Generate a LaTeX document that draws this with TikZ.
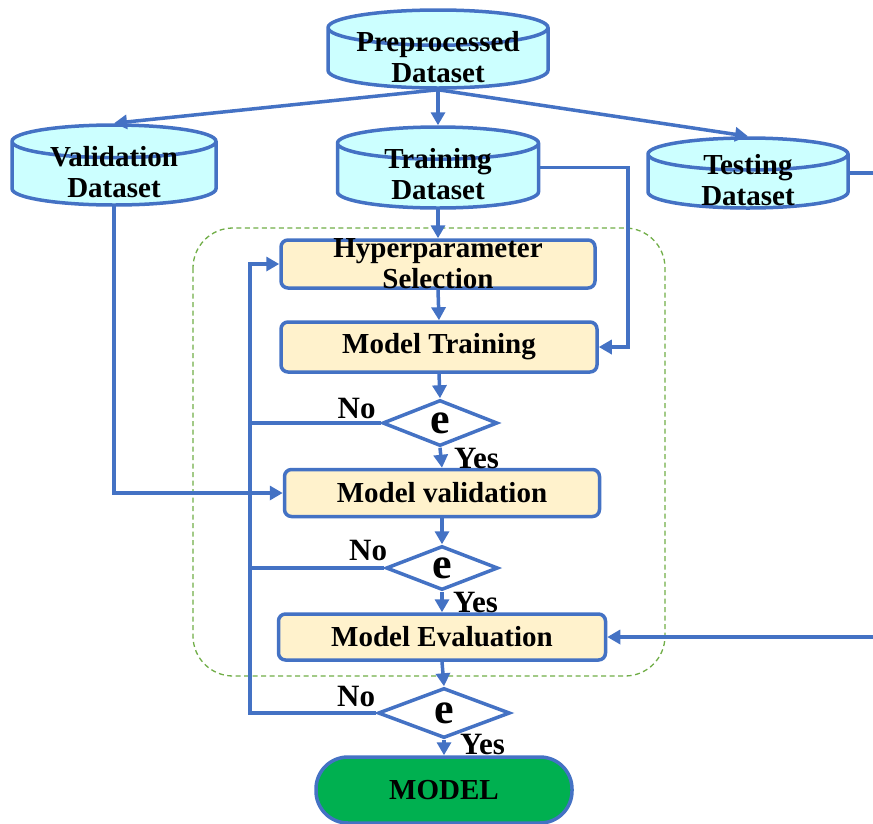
\documentclass[tikz,border=0pt]{standalone}
\usepackage{fontspec}
\setmainfont{Liberation Serif}
\usetikzlibrary{positioning, arrows.meta, shapes}
\definecolor{lineblue}{RGB}{68,114,196}
\definecolor{dbcyan}{RGB}{204,255,255}
\definecolor{stepcream}{RGB}{255,242,204}
\definecolor{framegreen}{RGB}{112,173,71}
\definecolor{modelgreen}{RGB}{0,176,80}

\tikzset{
  dbase/.style={cylinder, shape border rotate=90, aspect=0.16, draw=lineblue,
    fill=dbcyan, line width=3.5pt, inner sep=0pt, anchor=shape center},
  dbtext/.style={align=center, inner sep=0pt, yshift=2pt,
    font=\fontsize{29}{31}\selectfont\bfseries},
  stepbox/.style={rectangle, rounded corners=7pt, draw=lineblue, fill=stepcream,
    line width=3.5pt, align=center, inner sep=0pt,
    font=\fontsize{29}{31}\selectfont\bfseries},
  check/.style={diamond, draw=lineblue, fill=white, line width=3.5pt,
    inner sep=0pt, aspect=2.5, font=\fontsize{44}{44}\selectfont\bfseries},
  lbl/.style={inner sep=0pt, font=\fontsize{31}{31}\selectfont\bfseries},
  flow/.style={draw=lineblue, line width=3.5pt, -{Triangle[length=13pt,width=14pt]}},
  link/.style={draw=lineblue, line width=3.5pt}
}

\begin{document}
\begin{tikzpicture}[x=1pt, y=-1pt]
  \path[use as bounding box, clip] (0,0) rectangle (873,823);

  % datasets
  \node[dbase, text width=220pt, minimum height=78pt,
        label={[dbtext]center:{Preprocessed\\Dataset}}] (prep) at (438,49) {};
  \node[dbase, text width=204pt, minimum height=80pt,
        label={[dbtext]center:{Validation\\Dataset}}] (valid) at (114,165) {};
  \node[dbase, text width=201pt, minimum height=81pt,
        label={[dbtext]center:{Training\\Dataset}}] (train) at (438,167.5) {};
  \node[dbase, text width=200pt, minimum height=70pt,
        label={[dbtext]center:{Testing\\Dataset}}] (test) at (748,173) {};

  % dashed frame round the training loop
  \draw[framegreen, line width=1.3pt, dash pattern=on 5pt off 3.5pt, rounded corners=40pt]
    (193,228) rectangle (665,676);

  % steps
  \node[stepbox, minimum width=314pt, minimum height=48pt, inner ysep=-5pt] (hyper) at (438,264) {Hyperparameter\\Selection};
  \node[stepbox, minimum width=316pt, minimum height=50pt] (mtrain) at (439,347) {Model Training};
  \node[check, minimum width=115pt, minimum height=46pt] (d1) at (440,423) {e};
  \node[stepbox, minimum width=315pt, minimum height=47pt] (mval) at (442,493) {Model validation};
  \node[check, minimum width=112pt, minimum height=44pt] (d2) at (442,568) {e};
  \node[stepbox, minimum width=327pt, minimum height=46pt] (meval) at (442,637) {Model Evaluation};
  \node[check, minimum width=132pt, minimum height=50pt] (d3) at (444,713) {e};
  \node[rectangle, rounded corners=32pt, draw=lineblue, fill=modelgreen, line width=3.5pt,
        minimum width=256pt, minimum height=66pt, font=\fontsize{29}{31}\selectfont\bfseries]
        (model) at (444,790) {MODEL};

  % yes / no labels
  \node[lbl, above left=4pt and 5pt of d1.west] (no1) {No};
  \node[lbl, above left=7pt and -3pt of d2.west] (no2) {No};
  \node[lbl, above left=6pt and 1pt of d3.west] (no3) {No};
  \node[lbl, below right=0pt and 14pt of d1.south] (yes1) {Yes};
  \node[lbl, below right=0pt and 11pt of d2.south] (yes2) {Yes};
  \node[lbl, below right=-6pt and 16pt of d3.south] (yes3) {Yes};

  % helper columns
  \coordinate (fb) at (250,0);
  \coordinate (rt) at (628,0);
  \coordinate (rx) at (890,0);

  % split of the data
  \draw[flow] (prep.south) -- (valid.north);
  \draw[flow] (prep.south) -- (train.north);
  \draw[flow] (prep.south) -- (test.north);

  % main column
  \draw[flow] (train.south) -- (hyper.north);
  \draw[flow] (hyper.south) -- (mtrain.north);
  \draw[flow] (mtrain.south) -- (d1.north);
  \draw[flow] (d1.south) -- (mval.north);
  \draw[flow] (mval.south) -- (d2.north);
  \draw[flow] (d2.south) -- (meval.north);
  \draw[flow] (meval.south) -- (d3.north);
  \draw[flow] (d3.south) -- (model.north);

  % loops back
  \draw[flow] (d3.west) -- (d3.west -| fb) |- (hyper.west);
  \draw[link] (d1.west) -- (d1.west -| fb);
  \draw[link] (d2.west) -- (d2.west -| fb);

  % data feeds
  \draw[flow] (train.shape center -| train.east) -- (train.shape center -| rt) |- (mtrain.east);
  \draw[flow] (valid.south) |- (mval.west);
  \draw[flow] (test.shape center -| test.east) -- (test.shape center -| rx) |- (meval.east);
\end{tikzpicture}
\end{document}
